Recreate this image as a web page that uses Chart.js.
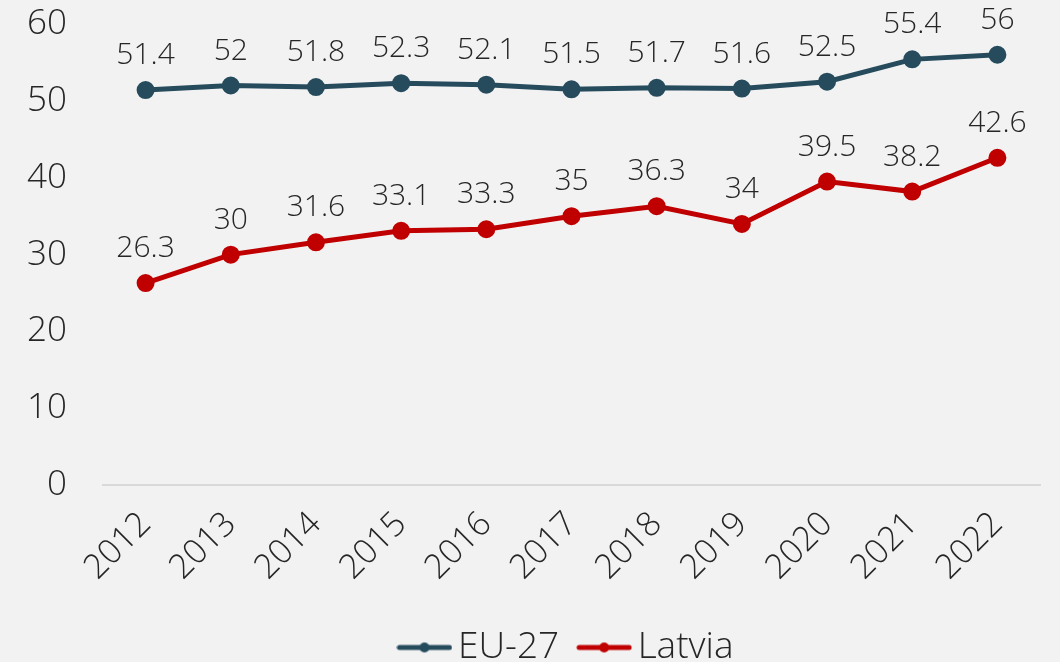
<!DOCTYPE html>
<html lang="en">
<head>
  <meta charset="UTF-8" />
  <title>EU-27 vs Latvia</title>
  <script src="https://cdn.jsdelivr.net/npm/chart.js"></script>
  <style>
    html, body { margin: 0; padding: 0; background: #f2f2f2; }
    #wrap { width: 1060px; height: 662px; }
  </style>
</head>
<body>
  <div id="wrap"><canvas id="chart"></canvas></div>
  <script>
    const years = ["2012", "2013", "2014", "2015", "2016", "2017", "2018", "2019", "2020", "2021", "2022"];
    const eu27 = [51.4, 52, 51.8, 52.3, 52.1, 51.5, 51.7, 51.6, 52.5, 55.4, 56];
    const latvia = [26.3, 30, 31.6, 33.1, 33.3, 35, 36.3, 34, 39.5, 38.2, 42.6];

    const FONT = "'Open Sans', sans-serif";
    const TEXT = "#262626";

    // legend marker: short line with a dot in the middle
    function legendMarker(color) {
      const c = document.createElement("canvas");
      c.width = 56; c.height = 14;
      const g = c.getContext("2d");
      g.strokeStyle = color; g.lineWidth = 5; g.lineCap = "round";
      g.beginPath(); g.moveTo(3, 7); g.lineTo(53, 7); g.stroke();
      g.fillStyle = color;
      g.beginPath(); g.arc(28, 7, 5, 0, Math.PI * 2); g.fill();
      return c;
    }

    // value labels above each point
    const pointLabels = {
      id: "pointLabels",
      afterDatasetsDraw(chart) {
        const ctx = chart.ctx;
        ctx.save();
        ctx.font = "300 30px " + FONT;
        ctx.fillStyle = TEXT;
        ctx.textAlign = "center";
        ctx.textBaseline = "alphabetic";
        chart.data.datasets.forEach((ds, i) => {
          chart.getDatasetMeta(i).data.forEach((pt, j) => {
            ctx.fillText(String(ds.data[j]), pt.x, pt.y - 26);
          });
        });
        ctx.restore();
      }
    };

    new Chart(document.getElementById("chart"), {
      type: "line",
      data: {
        labels: years,
        datasets: [
          {
            label: "EU-27",
            data: eu27,
            borderColor: "#264b5d",
            backgroundColor: "#264b5d",
            borderWidth: 5,
            pointRadius: 6.5
          },
          {
            label: "Latvia",
            data: latvia,
            borderColor: "#c00000",
            backgroundColor: "#c00000",
            borderWidth: 5,
            pointRadius: 6.5
          }
        ]
      },
      options: {
        responsive: true,
        maintainAspectRatio: false,
        animation: false,
        layout: { autoPadding: false, padding: { top: 24, right: 20, left: 0, bottom: -14 } },
        scales: {
          x: {
            offset: true,
            grid: { display: false },
            border: { color: "#d9d9d9", width: 2 },
            ticks: {
              color: TEXT,
              padding: 11,
              font: { family: FONT, size: 34, weight: 300 },
              minRotation: 45,
              maxRotation: 45
            }
          },
          y: {
            min: 0,
            max: 60,
            grid: { display: false, drawTicks: true, tickLength: 36 },
            border: { display: false },
            ticks: {
              stepSize: 10,
              padding: 0,
              color: TEXT,
              font: { family: FONT, size: 35, weight: 300 }
            },
            afterFit(scale) { scale.width = 103; }
          }
        },
        plugins: {
          legend: {
            position: "bottom",
            fullSize: false,
            labels: {
              usePointStyle: true,
              pointStyleWidth: 30,
              boxHeight: 14,
              padding: 30,
              color: TEXT,
              font: { family: FONT, size: 37, weight: 300 },
              generateLabels(chart) {
                return chart.data.datasets.map((ds, i) => ({
                  text: ds.label,
                  pointStyle: legendMarker(ds.borderColor),
                  fillStyle: ds.borderColor,
                  strokeStyle: ds.borderColor,
                  lineWidth: 0,
                  fontColor: TEXT,
                  hidden: false,
                  datasetIndex: i
                }));
              }
            }
          },
          tooltip: { enabled: false }
        }
      },
      plugins: [pointLabels]
    });
  </script>
</body>
</html>
